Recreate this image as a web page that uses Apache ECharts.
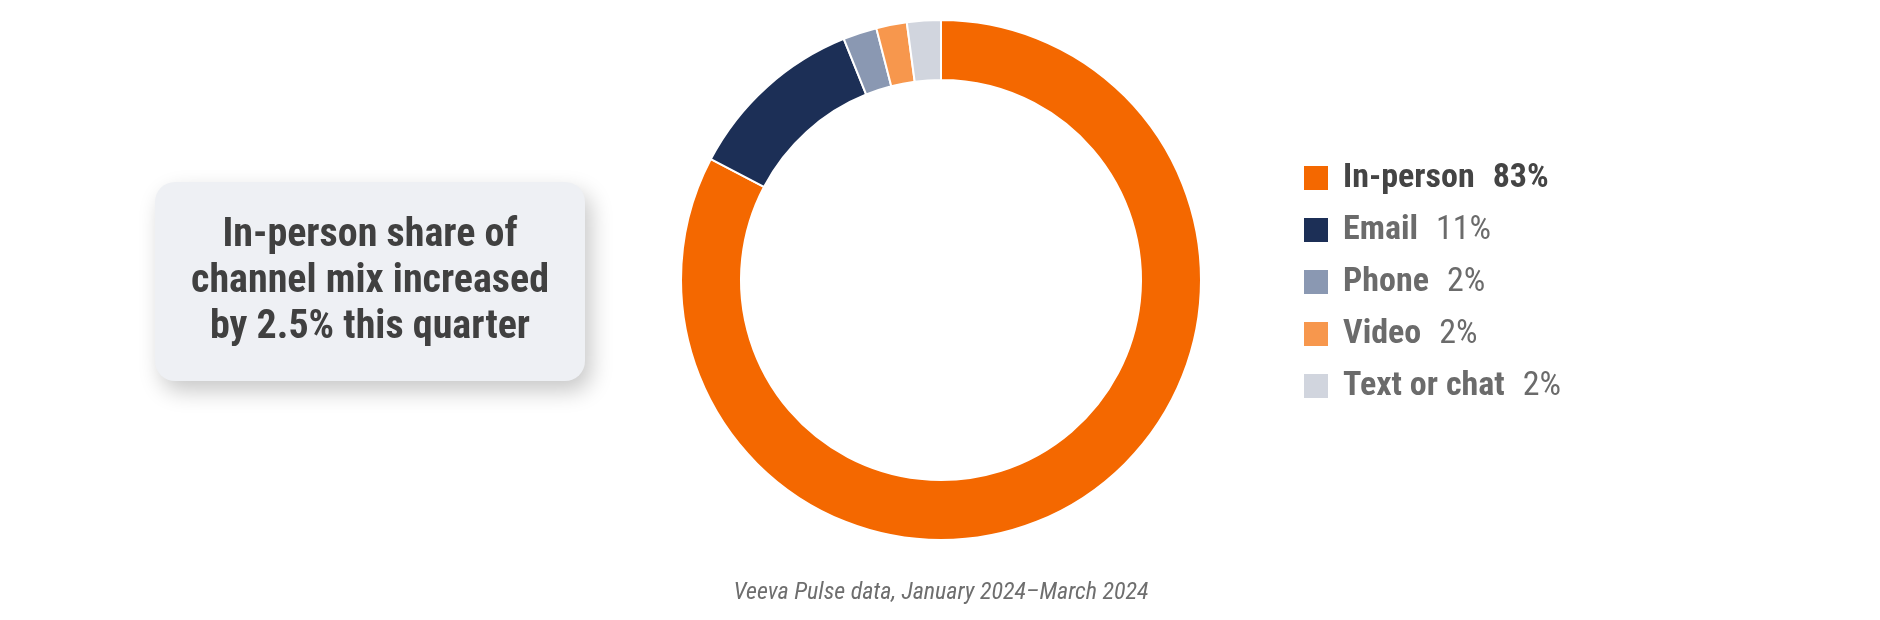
<!DOCTYPE html>
<html>
<head>
<meta charset="utf-8">
<script src="https://cdn.jsdelivr.net/npm/echarts@6/dist/echarts.min.js"></script>
<style>
html,body{margin:0;padding:0;background:#fff;}
#c{width:1880px;height:620px;}
</style>
</head>
<body>
<div id="c"></div>
<script>
var channels = ['In-person', 'Email', 'Phone', 'Video', 'Text or chat'];
var shares = [82.7, 11.2, 2.1, 1.9, 2.1];
var shareLabels = ['83%', '11%', '2%', '2%', '2%'];
var colors = ['#f46800', '#1c2f56', '#8a98b2', '#f7974d', '#d1d5de'];
var calloutLines = ['In-person share of', 'channel mix increased', 'by 2.5% this quarter'];
var footnote = 'Veeva Pulse data, January 2024\u2013March 2024';

var FONT = "'Roboto Condensed', 'Liberation Sans Narrow', 'DejaVu Sans Condensed', Roboto, sans-serif";

var chart = echarts.init(document.getElementById('c'), null, {renderer: 'canvas'});
var data = channels.map(function (n, i) {
  return {name: n, value: shares[i], itemStyle: {color: colors[i]}};
});

chart.setOption({
  animation: false,
  backgroundColor: '#ffffff',
  legend: {
    orient: 'vertical',
    left: 1302,
    top: 161,
    padding: 0,
    itemWidth: 26,
    itemHeight: 26,
    itemGap: 18,
    icon: 'rect',
    selectedMode: false,
    data: channels,
    formatter: function (name) {
      var i = channels.indexOf(name);
      if (i === 0) return '{nb|' + name + '}{vb|' + shareLabels[i] + '}';
      return '{n|' + name + '}{v|' + shareLabels[i] + '}';
    },
    textStyle: {
      fontFamily: FONT,
      rich: {
        nb: {fontFamily: FONT, fontSize: 34, lineHeight: 34, fontWeight: 'bold', color: '#444444', padding: [0, 18, 0, 9]},
        vb: {fontFamily: FONT, fontSize: 34, lineHeight: 34, fontWeight: 'bold', color: '#444444'},
        n: {fontFamily: FONT, fontSize: 34, lineHeight: 34, fontWeight: 'bold', color: '#6b6b6b', padding: [0, 18, 0, 9]},
        v: {fontFamily: FONT, fontSize: 34, lineHeight: 34, fontWeight: 'normal', color: '#6b6b6b'}
      }
    }
  },
  series: [{
    type: 'pie',
    center: [941, 280],
    radius: [200, 260],
    startAngle: 90,
    clockwise: true,
    avoidLabelOverlap: false,
    label: {show: false},
    labelLine: {show: false},
    emphasis: {disabled: true},
    itemStyle: {borderColor: '#ffffff', borderWidth: 2},
    data: data
  }],
  graphic: [
    {
      type: 'rect',
      shape: {x: 155, y: 182, width: 430, height: 199, r: 20},
      style: {
        fill: '#eef0f4',
        shadowBlur: 22,
        shadowOffsetX: 6,
        shadowOffsetY: 10,
        shadowColor: 'rgba(0,0,0,0.22)'
      },
      z: 1
    },
    {
      type: 'text',
      x: 370,
      y: 282,
      style: {
        text: calloutLines.join('\n'),
        font: 'bold 40px ' + FONT,
        fill: '#404040',
        align: 'center',
        verticalAlign: 'middle',
        lineHeight: 46
      },
      z: 2
    },
    {
      type: 'text',
      x: 941,
      y: 593,
      style: {
        text: footnote,
        font: 'italic 24px ' + FONT,
        fill: '#6e6e6e',
        align: 'center',
        verticalAlign: 'middle'
      },
      z: 2
    }
  ]
});
</script>
</body>
</html>
